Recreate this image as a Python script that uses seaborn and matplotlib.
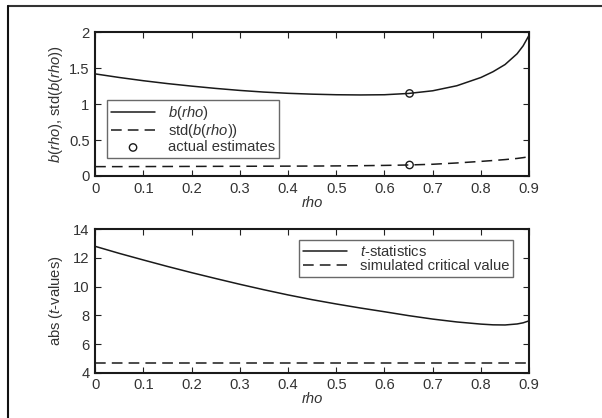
import matplotlib
matplotlib.use("Agg")
import matplotlib.pyplot as plt
import seaborn as sns
import pandas as pd
from matplotlib.lines import Line2D

# values
rho = [0.0, 0.05, 0.1, 0.15, 0.2, 0.25, 0.3, 0.35, 0.4, 0.45, 0.5,
       0.55, 0.6, 0.65, 0.7, 0.75, 0.8, 0.825, 0.85, 0.875, 0.8875, 0.9]
b_rho = [1.42, 1.37, 1.325, 1.285, 1.25, 1.218, 1.19, 1.167, 1.15, 1.138, 1.13,
         1.127, 1.13, 1.148, 1.185, 1.255, 1.37, 1.45, 1.55, 1.70, 1.81, 1.96]
std_b = [0.13, 0.13, 0.131, 0.132, 0.133, 0.134, 0.135, 0.136, 0.137, 0.138, 0.14,
         0.143, 0.147, 0.153, 0.163, 0.181, 0.203, 0.215, 0.228, 0.244, 0.255, 0.268]
t_stat = [12.8, 12.31, 11.85, 11.4, 10.97, 10.56, 10.16, 9.78, 9.42, 9.09, 8.79,
          8.51, 8.25, 7.98, 7.74, 7.54, 7.39, 7.34, 7.33, 7.4, 7.48, 7.62]
crit_val = [4.66] * len(rho)

est_rho = [0.652, 0.652]
est_val = [1.148, 0.153]

df = pd.DataFrame({"rho": rho, "b": b_rho, "std": std_b, "t": t_stat, "crit": crit_val})
est = pd.DataFrame({"rho": est_rho, "val": est_val})

sns.set_style("ticks")
plt.rcParams["font.family"] = ["Liberation Sans", "DejaVu Sans"]
plt.rcParams["mathtext.fontset"] = "custom"
plt.rcParams["mathtext.rm"] = "Liberation Sans"
plt.rcParams["mathtext.it"] = "Liberation Sans:italic"
plt.rcParams["text.color"] = "#333333"
plt.rcParams["axes.labelcolor"] = "#333333"
plt.rcParams["xtick.color"] = "#222222"
plt.rcParams["ytick.color"] = "#222222"
plt.rcParams["xtick.labelcolor"] = "#333333"
plt.rcParams["ytick.labelcolor"] = "#333333"

fig = plt.figure(figsize=(6.02, 4.18), dpi=100)
ax1 = fig.add_axes([0.158, 0.579, 0.721, 0.344])
ax2 = fig.add_axes([0.158, 0.108, 0.721, 0.344])

lc = "#1a1a1a"
fs = 10.6
dash = (0, (7, 4))
leg_kw = dict(fontsize=fs, frameon=True, fancybox=False, edgecolor="#444444",
              handlelength=3.0, borderpad=0.25, labelspacing=0.02, handletextpad=0.9,
              borderaxespad=0)

# top panel
sns.lineplot(data=df, x="rho", y="b", ax=ax1, color=lc, lw=1.1, label=r"$\mathit{b}$($\mathit{rho}$)")
sns.lineplot(data=df, x="rho", y="std", ax=ax1, color=lc, lw=1.1,
             label=r"std($\mathit{b}$($\mathit{rho}$))")
ax1.lines[1].set_linestyle(dash)
sns.scatterplot(data=est, x="rho", y="val", ax=ax1, marker="o", s=28, facecolor="none",
                edgecolor=lc, linewidth=1.0, label="actual estimates", zorder=5)
ax1.set_xlim(0, 0.9)
ax1.set_ylim(0, 2)
ax1.set_xticks([0, 0.1, 0.2, 0.3, 0.4, 0.5, 0.6, 0.7, 0.8, 0.9])
ax1.set_xticklabels(["0", "0.1", "0.2", "0.3", "0.4", "0.5", "0.6", "0.7", "0.8", "0.9"])
ax1.set_yticks([0, 0.5, 1, 1.5, 2])
ax1.set_yticklabels(["0", "0.5", "1", "1.5", "2"])
ax1.set_xlabel("rho", style="italic", fontsize=fs, labelpad=0)
ax1.set_ylabel(r"$\mathit{b}$($\mathit{rho}$), std($\mathit{b}$($\mathit{rho}$))", fontsize=fs, labelpad=3)
leg1 = ax1.legend(loc="lower left", bbox_to_anchor=(0.028, 0.125), **leg_kw)
leg1.get_frame().set_linewidth(1.0)

# bottom panel
sns.lineplot(data=df, x="rho", y="t", ax=ax2, color=lc, lw=1.1, label=r"$\mathit{t}$-statistics")
sns.lineplot(data=df, x="rho", y="crit", ax=ax2, color=lc, lw=1.1, label="simulated critical value")
ax2.lines[1].set_linestyle(dash)
ax2.set_xlim(0, 0.9)
ax2.set_ylim(4, 14)
ax2.set_xticks([0, 0.1, 0.2, 0.3, 0.4, 0.5, 0.6, 0.7, 0.8, 0.9])
ax2.set_xticklabels(["0", "0.1", "0.2", "0.3", "0.4", "0.5", "0.6", "0.7", "0.8", "0.9"])
ax2.set_yticks([4, 6, 8, 10, 12, 14])
ax2.set_xlabel("rho", style="italic", fontsize=fs, labelpad=0)
ax2.set_ylabel(r"abs ($\mathit{t}$-values)", fontsize=fs, labelpad=6)
leg2 = ax2.legend(loc="upper right", bbox_to_anchor=(0.963, 0.924), **leg_kw)
leg2.get_frame().set_linewidth(1.0)

# legend handle styles for dashed lines
leg1.get_lines()[1].set_linestyle(dash)
leg2.get_lines()[1].set_linestyle(dash)

for ax in (ax1, ax2):
    for sp in ax.spines.values():
        sp.set_visible(True)
        sp.set_linewidth(1.5)
        sp.set_color("#1a1a1a")
    ax.tick_params(direction="in", top=True, right=True, length=4, width=0.8, labelsize=fs, pad=4)

# partial outer frame
fig.add_artist(Line2D([8 / 602, 1.0], [1 - 6 / 418, 1 - 6 / 418], color="#333333", lw=1.5,
                      transform=fig.transFigure))
fig.add_artist(Line2D([8 / 602, 8 / 602], [0, 1 - 6 / 418], color="#111111", lw=1.5,
                      transform=fig.transFigure))

fig.savefig("out.png", dpi=100)
